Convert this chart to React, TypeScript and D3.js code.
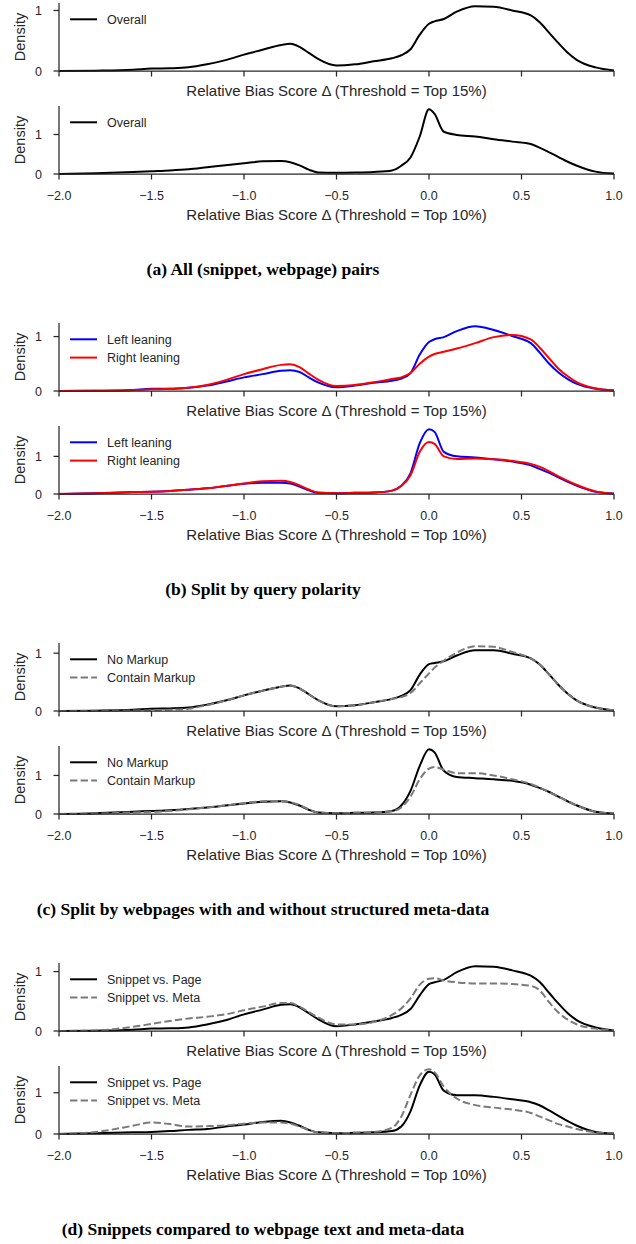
import React from "react";
import * as d3 from "d3";

// ---------- data ----------
const XGRID = [
  -2.0, -1.8, -1.6, -1.5, -1.4, -1.3, -1.2, -1.1, -1.0, -0.9, -0.8, -0.75, -0.7, -0.65, -0.6, -0.5,
  -0.4, -0.3, -0.2, -0.15, -0.1, -0.05, 0.0, 0.03, 0.08, 0.15, 0.25, 0.35, 0.45, 0.55, 0.6, 0.65,
  0.7, 0.75, 0.8, 0.9, 1.0,
];

const A15_OVERALL = [0, 0.005, 0.02, 0.04, 0.045, 0.06, 0.11, 0.18, 0.27, 0.35, 0.43, 0.45, 0.4, 0.3, 0.2, 0.09, 0.11, 0.16, 0.21, 0.26, 0.36, 0.6, 0.78, 0.82, 0.86, 0.98, 1.07, 1.06, 1.0, 0.92, 0.8, 0.63, 0.46, 0.3, 0.18, 0.06, 0.01];
const A10_OVERALL = [0, 0.02, 0.05, 0.07, 0.09, 0.12, 0.17, 0.22, 0.27, 0.32, 0.33, 0.3, 0.22, 0.11, 0.04, 0.03, 0.035, 0.05, 0.09, 0.21, 0.42, 0.95, 1.64, 1.52, 1.07, 0.99, 0.95, 0.88, 0.82, 0.76, 0.66, 0.55, 0.43, 0.31, 0.21, 0.06, 0.01];

const B15_LEFT = [0, 0.005, 0.02, 0.04, 0.04, 0.06, 0.1, 0.17, 0.25, 0.31, 0.37, 0.38, 0.35, 0.25, 0.16, 0.07, 0.1, 0.15, 0.19, 0.23, 0.33, 0.67, 0.9, 0.95, 0.99, 1.1, 1.19, 1.12, 1.01, 0.88, 0.7, 0.5, 0.34, 0.22, 0.13, 0.04, 0.01];
const B15_RIGHT = [0, 0.005, 0.015, 0.03, 0.04, 0.06, 0.11, 0.2, 0.31, 0.4, 0.48, 0.49, 0.44, 0.32, 0.21, 0.09, 0.11, 0.16, 0.22, 0.25, 0.33, 0.5, 0.63, 0.68, 0.72, 0.78, 0.88, 0.99, 1.03, 0.95, 0.79, 0.6, 0.41, 0.27, 0.16, 0.05, 0.01];
const B10_LEFT = [0, 0.02, 0.05, 0.06, 0.08, 0.11, 0.15, 0.21, 0.27, 0.3, 0.3, 0.28, 0.2, 0.1, 0.03, 0.02, 0.03, 0.04, 0.09, 0.22, 0.55, 1.35, 1.72, 1.65, 1.12, 1.0, 0.97, 0.92, 0.86, 0.76, 0.66, 0.56, 0.44, 0.32, 0.22, 0.06, 0.01];
const B10_RIGHT = [0, 0.02, 0.05, 0.06, 0.08, 0.11, 0.15, 0.21, 0.28, 0.34, 0.35, 0.32, 0.23, 0.12, 0.04, 0.02, 0.03, 0.04, 0.09, 0.21, 0.5, 1.12, 1.38, 1.33, 1.0, 0.93, 0.94, 0.92, 0.88, 0.8, 0.72, 0.6, 0.47, 0.35, 0.24, 0.07, 0.01];

const C15_NOMARKUP = [0, 0.005, 0.02, 0.04, 0.045, 0.06, 0.11, 0.18, 0.27, 0.35, 0.42, 0.44, 0.39, 0.29, 0.19, 0.08, 0.1, 0.15, 0.21, 0.26, 0.36, 0.63, 0.81, 0.83, 0.86, 0.96, 1.05, 1.05, 0.99, 0.91, 0.8, 0.63, 0.45, 0.3, 0.18, 0.06, 0.01];
const C15_MARKUP = [0, 0.003, 0.008, 0.012, 0.02, 0.04, 0.1, 0.18, 0.27, 0.35, 0.42, 0.44, 0.39, 0.29, 0.19, 0.08, 0.1, 0.15, 0.21, 0.24, 0.31, 0.48, 0.65, 0.75, 0.87, 1.01, 1.12, 1.11, 1.02, 0.91, 0.8, 0.63, 0.45, 0.3, 0.18, 0.06, 0.01];
const C10_NOMARKUP = [0, 0.02, 0.06, 0.08, 0.1, 0.13, 0.17, 0.22, 0.27, 0.32, 0.33, 0.3, 0.22, 0.11, 0.04, 0.02, 0.03, 0.04, 0.08, 0.22, 0.6, 1.25, 1.68, 1.6, 1.12, 0.96, 0.93, 0.9, 0.86, 0.76, 0.67, 0.57, 0.45, 0.33, 0.22, 0.06, 0.01];
const C10_MARKUP = [0, 0.01, 0.04, 0.05, 0.08, 0.12, 0.17, 0.22, 0.28, 0.33, 0.34, 0.31, 0.23, 0.12, 0.04, 0.02, 0.03, 0.04, 0.07, 0.17, 0.45, 0.9, 1.18, 1.22, 1.15, 1.06, 1.06, 1.0, 0.9, 0.78, 0.68, 0.57, 0.45, 0.33, 0.22, 0.06, 0.01];

const D15_PAGE = [0, 0.005, 0.02, 0.04, 0.045, 0.06, 0.11, 0.18, 0.28, 0.36, 0.44, 0.45, 0.4, 0.3, 0.2, 0.08, 0.11, 0.16, 0.22, 0.27, 0.37, 0.6, 0.79, 0.82, 0.86, 0.99, 1.09, 1.08, 1.02, 0.93, 0.82, 0.64, 0.46, 0.3, 0.18, 0.06, 0.01];
const D15_META = [0, 0.01, 0.07, 0.12, 0.17, 0.21, 0.24, 0.28, 0.35, 0.41, 0.47, 0.47, 0.41, 0.32, 0.23, 0.11, 0.11, 0.15, 0.27, 0.38, 0.55, 0.78, 0.88, 0.89, 0.85, 0.82, 0.8, 0.8, 0.79, 0.76, 0.68, 0.48, 0.31, 0.19, 0.11, 0.04, 0.01];
const D10_PAGE = [0, 0.02, 0.04, 0.05, 0.07, 0.1, 0.12, 0.18, 0.23, 0.29, 0.32, 0.28, 0.2, 0.1, 0.04, 0.02, 0.03, 0.04, 0.07, 0.18, 0.55, 1.18, 1.51, 1.45, 1.05, 0.94, 0.94, 0.9, 0.84, 0.77, 0.69, 0.57, 0.44, 0.31, 0.2, 0.05, 0.01];
const D10_META = [0, 0.05, 0.2, 0.28, 0.24, 0.18, 0.19, 0.21, 0.25, 0.28, 0.28, 0.25, 0.18, 0.1, 0.04, 0.02, 0.03, 0.05, 0.15, 0.42, 0.95, 1.42, 1.57, 1.5, 1.15, 0.86, 0.7, 0.64, 0.59, 0.51, 0.42, 0.33, 0.24, 0.18, 0.12, 0.04, 0.01];

const LEGEND_A = ["Overall"];
const LEGEND_B = ["Left leaning", "Right leaning"];
const LEGEND_C = ["No Markup", "Contain Markup"];
const LEGEND_D = ["Snippet vs. Page", "Snippet vs. Meta"];

const CAPTIONS = [
  "(a) All (snippet, webpage) pairs",
  "(b) Split by query polarity",
  "(c) Split by webpages with and without structured meta-data",
  "(d) Snippets compared to webpage text and meta-data",
];

const THRESHOLDS = ["Top 15%", "Top 10%"];
const X_TICKS = [-2, -1.5, -1, -0.5, 0, 0.5, 1];
const Y_TICKS = [0, 1];
const Y_LABEL = "Density";

// ---------- styles ----------
const W = 636;
const H = 1244;
const X0 = 59;
const X1 = 614;
const GROUP_STEP = 320;
const PANEL_TOPS = [3, 106];
const PANEL_H = 68;
const AXIS_COLOR = "#262626";
const SANS = "'Liberation Sans', Arial, Helvetica, sans-serif";
const SERIF = "'Liberation Serif', 'Times New Roman', serif";

type Style = { color: string; dash?: string };
const BLACK: Style = { color: "#000000" };
const GRAY_DASH: Style = { color: "#7a7a7a", dash: "7.4,3.2" };
const BLUE: Style = { color: "#0000ff" };
const RED: Style = { color: "#ff0000" };

type Series = { name: string; values: number[]; style: Style };
type Group = { caption: string; panels: Series[][] };

const groups: Group[] = [
  {
    caption: CAPTIONS[0],
    panels: [
      [{ name: LEGEND_A[0], values: A15_OVERALL, style: BLACK }],
      [{ name: LEGEND_A[0], values: A10_OVERALL, style: BLACK }],
    ],
  },
  {
    caption: CAPTIONS[1],
    panels: [
      [
        { name: LEGEND_B[0], values: B15_LEFT, style: BLUE },
        { name: LEGEND_B[1], values: B15_RIGHT, style: RED },
      ],
      [
        { name: LEGEND_B[0], values: B10_LEFT, style: BLUE },
        { name: LEGEND_B[1], values: B10_RIGHT, style: RED },
      ],
    ],
  },
  {
    caption: CAPTIONS[2],
    panels: [
      [
        { name: LEGEND_C[0], values: C15_NOMARKUP, style: BLACK },
        { name: LEGEND_C[1], values: C15_MARKUP, style: GRAY_DASH },
      ],
      [
        { name: LEGEND_C[0], values: C10_NOMARKUP, style: BLACK },
        { name: LEGEND_C[1], values: C10_MARKUP, style: GRAY_DASH },
      ],
    ],
  },
  {
    caption: CAPTIONS[3],
    panels: [
      [
        { name: LEGEND_D[0], values: D15_PAGE, style: BLACK },
        { name: LEGEND_D[1], values: D15_META, style: GRAY_DASH },
      ],
      [
        { name: LEGEND_D[0], values: D10_PAGE, style: BLACK },
        { name: LEGEND_D[1], values: D10_META, style: GRAY_DASH },
      ],
    ],
  },
];

const x = d3.scaleLinear().domain([-2, 1]).range([X0, X1]);
const fmtX = d3.format(".1f");

function Panel({ series, top, pi }: { series: Series[]; top: number; pi: number }) {
  const yMax = (d3.max(series, (s) => d3.max(s.values)) as number) * 1.05;
  const y = d3.scaleLinear().domain([0, yMax]).range([top + PANEL_H, top]);
  const line = d3
    .line<number>()
    .x((_, i) => x(XGRID[i]))
    .y((d) => y(d))
    .curve(d3.curveMonotoneX);
  const base = y(0);
  const showTickLabels = pi === 1;
  return (
    <g>
      {series.map((s, i) => (
        <path
          key={i}
          d={line(s.values) || ""}
          fill="none"
          stroke={s.style.color}
          strokeWidth={2}
          strokeDasharray={s.style.dash}
          strokeLinejoin="round"
        />
      ))}
      {/* spines */}
      <line x1={X0} x2={X0} y1={top} y2={base} stroke={AXIS_COLOR} strokeWidth={1.25} />
      <line x1={X0} x2={X1} y1={base} y2={base} stroke={AXIS_COLOR} strokeWidth={1.25} />
      {X_TICKS.map((t) => (
        <g key={t}>
          <line x1={x(t)} x2={x(t)} y1={base} y2={base + 5.5} stroke={AXIS_COLOR} strokeWidth={1.25} />
          {showTickLabels && (
            <text x={x(t)} y={base + 26} textAnchor="middle" fontSize={12.5} fill={AXIS_COLOR} fontFamily={SANS}>
              {fmtX(t)}
            </text>
          )}
        </g>
      ))}
      {Y_TICKS.map((t) => (
        <g key={t}>
          <line x1={X0 - 5.5} x2={X0} y1={y(t)} y2={y(t)} stroke={AXIS_COLOR} strokeWidth={1.25} />
          <text x={42} y={y(t)} dy="0.36em" textAnchor="end" fontSize={12.5} fill={AXIS_COLOR} fontFamily={SANS}>
            {t}
          </text>
        </g>
      ))}
      <text
        transform={`translate(${20},${(top + base) / 2}) rotate(-90)`}
        dy="0.36em"
        textAnchor="middle"
        fontSize={14.5}
        fill={AXIS_COLOR}
        fontFamily={SANS}
      >
        {Y_LABEL}
      </text>
      <text
        x={(X0 + X1) / 2}
        y={base + (showTickLabels ? 45.5 : 25)}
        textAnchor="middle"
        fontSize={15}
        fill={AXIS_COLOR}
        fontFamily={SANS}
      >
        {`Relative Bias Score Δ (Threshold = ${THRESHOLDS[pi]})`}
      </text>
      {/* legend */}
      {series.map((s, i) => {
        const ly = top + 16.3 + i * 18.3;
        return (
          <g key={"lg" + i}>
            <line x1={70} x2={97} y1={ly} y2={ly} stroke={s.style.color} strokeWidth={2} strokeDasharray={s.style.dash} />
            <text x={107} y={ly} dy="0.36em" fontSize={12.5} fill={AXIS_COLOR} fontFamily={SANS}>
              {s.name}
            </text>
          </g>
        );
      })}
    </g>
  );
}

export default function App() {
  return (
    <svg
      width={W}
      height={H}
      viewBox={`0 0 ${W} ${H}`}
      style={{ position: "absolute", left: 0, top: 0, display: "block", background: "#fff" }}
    >
      <rect x={0} y={0} width={W} height={H} fill="#fff" />
      {groups.map((g, gi) => {
        const gy = gi * GROUP_STEP;
        return (
          <g key={gi}>
            {g.panels.map((p, pi) => (
              <Panel key={pi} series={p} top={gy + PANEL_TOPS[pi]} pi={pi} />
            ))}
            <text
              x={263}
              y={gy + 275}
              textAnchor="middle"
              fontSize={17.5}
              fontWeight="bold"
              fontFamily={SERIF}
              fill="#000"
            >
              {g.caption}
            </text>
          </g>
        );
      })}
    </svg>
  );
}
